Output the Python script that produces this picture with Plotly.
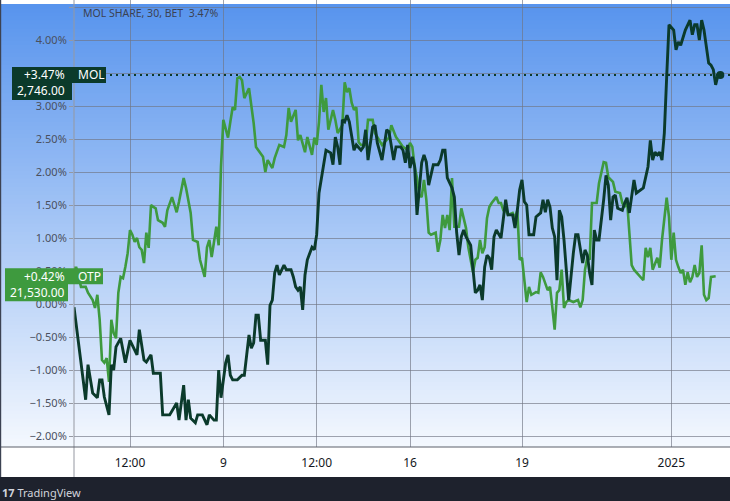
import plotly.graph_objects as go

# ---------------- data (30-minute bars, % change) ----------------
mol_x = [0, 3, 5, 6, 8, 10, 11, 12, 13, 15, 16, 17, 18, 20, 22, 24, 25, 27, 28, 30,
         31, 33, 34, 37, 38, 41, 44, 45, 47, 48, 49, 50, 52, 53, 55, 57, 58, 60, 61, 62,
         63, 65, 66, 67, 68, 70, 72, 73, 75, 76, 77, 78, 79, 80, 82, 83, 84, 85, 86, 87,
         88, 90, 91, 93, 94, 95, 96, 97, 98, 99, 100, 102, 103, 104, 105, 107, 108, 110, 111, 112,
         113, 114, 115, 116, 117, 118, 120, 121, 123, 124, 125, 126, 128, 129, 130, 132, 133, 134, 135, 137,
         138, 140, 141, 142, 143, 144, 145, 146, 147, 149, 150, 151, 152, 154, 156, 157, 158, 159, 160, 162,
         163, 164, 165, 166, 167, 168, 170, 171, 172, 173, 174, 175, 176, 177, 178, 179, 180, 181, 183, 185,
         186, 188, 189, 190, 191, 192, 193, 194, 195, 197, 198, 199, 200, 201, 202, 203, 204, 205, 206, 207,
         208, 209, 210, 212, 213, 214, 215, 216, 218, 219, 220, 221, 222, 223, 224, 225, 227, 228, 229, 230,
         231, 232, 233, 235, 236, 237, 238, 240, 241, 243, 244, 246, 247, 248, 249, 250, 251, 252, 253, 254,
         255, 257, 258, 259, 260, 262, 264, 265, 266, 267, 268, 269, 270, 272, 273, 274, 275, 276, 277]
mol_y = [-0.05, -0.89, -1.45, -0.92, -1.35, -1.42, -1.15, -1.15, -1.41, -1.68, -0.92, -1.00, -0.65, -0.52, -0.89, -0.55, -0.62, -0.77, -0.39, -0.85,
         -0.88, -0.77, -1.05, -1.05, -1.68, -1.68, -1.50, -1.76, -1.23, -1.76, -1.45, -1.73, -1.80, -1.68, -1.68, -1.83, -1.68, -1.76, -1.76, -1.00,
         -1.42, -0.89, -0.77, -1.08, -1.15, -1.15, -1.08, -1.08, -0.47, -0.67, -0.59, -0.17, -0.17, -0.55, -0.55, -0.92, -0.02, 0.06, 0.47, 0.59,
         0.44, 0.59, 0.52, 0.52, 0.41, 0.26, 0.21, 0.26, -0.09, 0.44, 0.67, 0.86, 0.82, 1.05, 1.68, 2.14, 2.33, 2.29, 2.11, 2.53,
         2.38, 2.11, 2.79, 2.76, 2.86, 2.76, 2.33, 2.41, 2.33, 2.38, 2.64, 2.18, 2.68, 2.71, 2.44, 2.18, 2.41, 2.64, 2.61, 2.18,
         2.38, 2.38, 2.33, 2.14, 2.41, 2.06, 2.23, 2.08, 1.35, 2.14, 2.26, 2.15, 1.80, 2.11, 2.11, 2.18, 2.33, 2.33, 1.91, 1.76,
         1.62, 1.08, 0.74, 1.02, 1.12, 1.02, 0.89, 0.56, 0.17, 0.21, 0.29, 0.06, 0.56, 0.74, 0.70, 0.52, 1.02, 1.12, 1.00, 1.58,
         1.35, 1.35, 1.15, 1.42, 1.73, 1.88, 1.55, 1.50, 1.05, 1.05, 1.32, 1.35, 1.38, 1.58, 1.39, 1.58, 1.47, 1.15, 1.02, 0.36,
         1.42, 1.32, 0.97, 0.06, 0.47, 0.77, 1.05, 1.05, 0.62, 0.82, 0.74, 0.47, 0.29, 1.12, 0.97, 0.97, 1.58, 1.95, 1.80, 1.27,
         1.62, 1.65, 1.45, 1.42, 1.53, 1.61, 1.38, 1.88, 1.68, 1.73, 1.76, 2.08, 2.48, 2.18, 2.30, 2.26, 2.30, 2.18, 2.59, 3.44,
         4.23, 4.15, 3.85, 3.97, 3.92, 4.15, 4.30, 4.08, 4.23, 4.23, 4.00, 4.30, 4.15, 3.65, 3.62, 3.55, 3.32, 3.47, 3.47]

otp_x = [0, 1, 2, 3, 5, 6, 8, 9, 10, 11, 12, 13, 14, 15, 16, 17, 18, 19, 20, 21,
         22, 23, 24, 25, 26, 27, 28, 29, 30, 31, 32, 33, 34, 35, 36, 38, 39, 40, 42, 44,
         45, 47, 48, 50, 51, 53, 54, 56, 57, 58, 59, 60, 61, 62, 63, 64, 66, 67, 68, 69,
         70, 71, 72, 73, 75, 77, 78, 81, 82, 83, 85, 86, 88, 90, 91, 92, 93, 95, 96, 97,
         98, 99, 100, 102, 103, 104, 105, 106, 107, 108, 109, 111, 112, 113, 115, 116, 117, 118, 119, 120,
         121, 122, 123, 125, 126, 128, 129, 131, 132, 133, 135, 136, 138, 139, 141, 142, 143, 144, 145, 146,
         147, 148, 149, 150, 151, 152, 153, 155, 156, 157, 158, 159, 160, 161, 162, 163, 165, 166, 168, 169,
         171, 172, 173, 174, 175, 176, 177, 178, 179, 181, 182, 183, 184, 185, 186, 188, 189, 190, 191, 192,
         193, 194, 195, 196, 198, 199, 200, 201, 203, 204, 205, 206, 207, 208, 209, 210, 211, 212, 214, 216,
         217, 218, 219, 220, 221, 222, 224, 225, 227, 228, 229, 231, 232, 234, 235, 236, 237, 239, 240, 242,
         244, 245, 246, 247, 248, 250, 251, 252, 254, 255, 256, 257, 258, 259, 260, 261, 262, 263, 264, 265,
         266, 267, 268, 269, 270, 271, 272, 273, 275]
otp_y = [0.55, 0.55, 0.41, 0.26, 0.26, 0.17, 0.06, -0.06, 0.14, -0.24, -0.85, -0.89, -0.82, -1.18, -0.24, -0.44, -0.52, 0.17, 0.41, 0.39,
         0.56, 0.77, 1.12, 1.05, 0.94, 1.00, 0.86, 0.82, 0.62, 1.08, 0.85, 1.50, 1.47, 1.45, 1.27, 1.23, 1.17, 1.42, 1.62, 1.39,
         1.55, 1.91, 1.76, 1.38, 0.97, 0.94, 0.67, 0.41, 0.86, 0.97, 0.71, 0.97, 1.17, 0.89, 2.08, 2.79, 2.52, 2.76, 2.98, 2.94,
         3.42, 3.44, 3.39, 3.12, 3.27, 2.74, 2.38, 2.23, 2.00, 2.18, 2.06, 2.21, 2.41, 2.38, 2.56, 2.97, 2.76, 2.94, 2.48, 2.56,
         2.44, 2.30, 2.53, 2.26, 2.52, 2.41, 2.76, 3.32, 2.91, 3.12, 2.64, 2.94, 2.79, 2.59, 2.71, 3.36, 3.21, 3.27, 3.05, 2.94,
         2.98, 2.45, 2.41, 2.41, 2.79, 2.79, 2.59, 2.48, 2.41, 2.45, 2.52, 2.71, 2.53, 2.48, 2.38, 2.36, 2.33, 2.44, 2.38, 2.08,
         1.91, 1.65, 1.62, 1.88, 1.58, 1.08, 1.05, 1.08, 0.79, 0.97, 1.35, 1.15, 1.35, 1.12, 1.91, 1.17, 1.17, 1.45, 1.15, 0.86,
         0.48, 0.67, 0.70, 0.97, 0.77, 0.86, 1.30, 1.47, 1.53, 1.62, 1.53, 1.53, 1.42, 1.42, 1.35, 1.38, 1.30, 1.42, 0.67, 0.70,
         0.33, 0.03, 0.26, 0.14, 0.18, 0.17, 0.48, 0.41, 0.21, 0.26, -0.05, -0.39, 0.17, 0.21, 0.52, -0.06, 0.03, 0.06, 0.03, 0.06,
         -0.05, 0.06, 0.52, 0.71, 0.67, 1.53, 1.53, 1.83, 2.15, 2.14, 1.92, 1.85, 1.70, 1.68, 1.53, 1.47, 1.58, 0.59, 0.52, 0.44,
         0.36, 0.85, 0.71, 0.85, 0.52, 0.70, 0.55, 0.97, 1.61, 1.32, 0.67, 1.08, 0.67, 0.56, 0.47, 0.52, 0.29, 0.48, 0.33, 0.41,
         0.59, 0.41, 0.47, 0.89, 0.14, 0.06, 0.09, 0.41, 0.42]

x_tick_bars = [24, 64, 104, 144, 192, 256]
x_tick_text = ["12:00", "9", "12:00", "16", "19", "2025"]
y_tick_vals = [-2.0, -1.5, -1.0, -0.5, 0.0, 0.5, 1.0, 1.5, 2.0, 2.5, 3.0, 3.5, 4.0, 4.5]
y_tick_text = [("%.2f%%" % v).replace("-", "\u2212") for v in y_tick_vals]

MOL_NAME, MOL_PRICE = "MOL", 2746.00
OTP_NAME, OTP_PRICE = "OTP", 21530.00
TITLE_PREFIX = "MOL SHARE, 30, BET"

# ---------------- styling ----------------
W, H = 730, 501
ML, MR, MT, MB = 74, 0, 0, 54
PW, PH = W - ML - MR, H - MT - MB
MOL_COLOR = "#0b3a2b"
OTP_COLOR = "#3e9a3e"
FONT = "Noto Sans"


def px_x(px):
    return (px - ML) / PW


def px_y(py):
    return (PH - py) / PH


fig = go.Figure()

fig.add_trace(go.Scatter(x=otp_x, y=otp_y, mode="lines", name=OTP_NAME,
                         line=dict(color=OTP_COLOR, width=2.6), hoverinfo="skip"))
fig.add_trace(go.Scatter(x=mol_x, y=mol_y, mode="lines", name=MOL_NAME,
                         line=dict(color=MOL_COLOR, width=2.9), hoverinfo="skip"))
fig.add_trace(go.Scatter(x=[mol_x[-1]], y=[mol_y[-1]], mode="markers",
                         marker=dict(color=MOL_COLOR, size=8), hoverinfo="skip"))

shapes = []
# vertical gradient background (plot + left price scale)
top = (86, 147, 237)
bot = (244, 248, 254)
N = 110
for k in range(N):
    t = (k + 0.5) / N
    c = tuple(round(top[i] + (bot[i] - top[i]) * t) for i in range(3))
    y1 = 1 - k / N
    y0 = 1 - (k + 1) / N - 0.002
    shapes.append(dict(type="rect", xref="paper", yref="paper", x0=px_x(0), x1=1,
                       y0=max(y0, 0), y1=y1, fillcolor="rgb(%d,%d,%d)" % c,
                       line=dict(width=0), layer="below"))
# footer bar
shapes.append(dict(type="rect", xref="paper", yref="paper", x0=px_x(0), x1=1,
                   y0=px_y(H), y1=px_y(477), fillcolor="#1e222d", line=dict(width=0), layer="above"))
# price-scale separator line
shapes.append(dict(type="line", xref="paper", yref="paper", x0=0, x1=0,
                   y0=px_y(477), y1=1, line=dict(color="#9598a1", width=1), layer="above"))
# time-scale top line across full width
shapes.append(dict(type="line", xref="paper", yref="paper", x0=px_x(0), x1=1,
                   y0=0, y1=0, line=dict(color="#5d606b", width=1.2), layer="above"))
# left border
shapes.append(dict(type="line", xref="paper", yref="paper", x0=px_x(0.6), x1=px_x(0.6),
                   y0=px_y(477), y1=1, line=dict(color="#3c4252", width=1.2), layer="above"))


def price_label(value, name, price, color, x_left, row1_right, row2_right):
    shapes.append(dict(type="rect", xref="paper", yref="y", ysizemode="pixel", yanchor=value,
                       x0=px_x(x_left), x1=px_x(row1_right), y0=-8, y1=8,
                       fillcolor=color, line=dict(width=0), layer="above"))
    shapes.append(dict(type="rect", xref="paper", yref="y", ysizemode="pixel", yanchor=value,
                       x0=px_x(x_left), x1=px_x(row2_right), y0=-25, y1=-7.5,
                       fillcolor=color, line=dict(width=0), layer="above"))
    f = dict(family=FONT, size=12, color="white")
    fig.add_annotation(x=px_x(67), xref="paper", y=value, yref="y", xanchor="right",
                       yanchor="middle", text="%+.2f%%" % value, showarrow=False, font=f)
    fig.add_annotation(x=px_x(76), xref="paper", y=value, yref="y", xanchor="left",
                       yanchor="middle", text=name, showarrow=False, font=f)
    fig.add_annotation(x=px_x(67), xref="paper", y=value, yref="y", xanchor="right",
                       yanchor="middle", yshift=-16, text="{:,.2f}".format(price),
                       showarrow=False, font=f)


price_label(mol_y[-1], MOL_NAME, MOL_PRICE, MOL_COLOR, 12, 106, 72)
price_label(otp_y[-1], OTP_NAME, OTP_PRICE, OTP_COLOR, 5, 103, 68)

fig.add_hline(y=mol_y[-1], line=dict(color=MOL_COLOR, width=2, dash="2px,4px"), layer="above")

fig.add_annotation(x=px_x(81), xref="paper", y=px_y(13), yref="paper", xanchor="left",
                   yanchor="middle", showarrow=False,
                   text="%s  %.2f%%" % (TITLE_PREFIX, mol_y[-1]),
                   font=dict(family=FONT, size=10.5, color="#3b4252"))

fig.add_annotation(x=px_x(0), xref="paper", y=px_y(492), yref="paper", xanchor="left",
                   yanchor="middle", showarrow=False,
                   text="<b>17</b> TradingView",
                   font=dict(family=FONT, size=11, color="#d1d4dc"))

fig.update_layout(
    width=W, height=H,
    margin=dict(l=ML, r=MR, t=MT, b=MB, pad=0),
    paper_bgcolor="white", plot_bgcolor="rgba(0,0,0,0)",
    showlegend=False, shapes=shapes, hovermode=False,
    font=dict(family=FONT),
)
fig.update_xaxes(range=[0, PW * 3 / 7], tickvals=x_tick_bars, ticktext=x_tick_text,
                 showgrid=True, gridcolor="rgba(112,117,130,0.65)", gridwidth=1,
                 zeroline=False, showline=False, ticks="outside", ticklen=5,
                 tickcolor="rgba(0,0,0,0)",
                 tickfont=dict(family=FONT, size=12, color="#131722"))
fig.update_yaxes(range=[-(PH - 304) / 66, 304 / 66], tickvals=y_tick_vals,
                 ticktext=y_tick_text,
                 showgrid=True, gridcolor="rgba(112,117,130,0.65)", gridwidth=1,
                 zeroline=False, showline=False, ticks="outside", ticklen=4,
                 tickcolor="#9598a1",
                 tickfont=dict(family=FONT, size=11, color="#4a505e"))

fig.write_html("out.html", config={"displayModeBar": False},
               post_script="document.body.style.margin='0px';")
